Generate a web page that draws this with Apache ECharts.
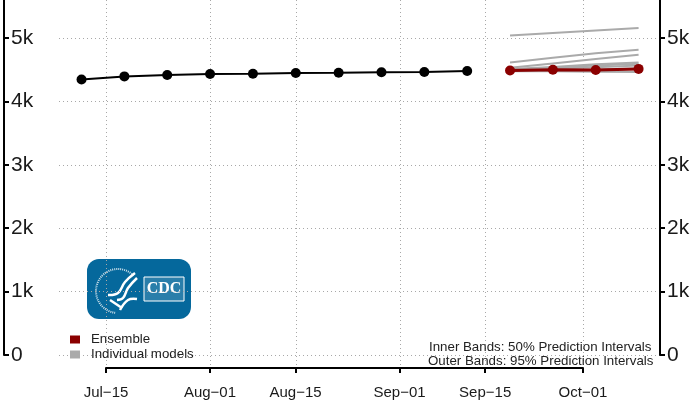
<!DOCTYPE html>
<html><head><meta charset="utf-8">
<style>html,body{margin:0;padding:0;background:#fff}#c{width:695px;height:411px}</style>
<script src="https://cdn.jsdelivr.net/npm/echarts@6/dist/echarts.min.js"></script>
</head><body><div id="c"></div>
<script>
const observedDates = ['2020-07-11','2020-07-18','2020-07-25','2020-08-01','2020-08-08','2020-08-15','2020-08-22','2020-08-29','2020-09-05','2020-09-12'];
const observedValues = [4345,4395,4418,4432,4437,4448,4452,4460,4465,4480];
const forecastDates = ['2020-09-19','2020-09-26','2020-10-03','2020-10-10'];
const ensembleValues = [4487,4500,4497,4513];
const modelValues = [
  [5040,5080,5120,5160],
  [4615,4690,4760,4815],
  [4530,4600,4670,4735],
  [4510,4545,4585,4615],
  [4500,4530,4565,4595],
  [4490,4515,4540,4565],
  [4480,4490,4505,4525],
  [4475,4475,4470,4465]
];
const tickDates = ['2020-07-15','2020-08-01','2020-08-15','2020-09-01','2020-09-15','2020-10-01'];
const tickLabels = ['Jul\u221215','Aug\u221201','Aug\u221215','Sep\u221201','Sep\u221215','Oct\u221201'];
const yTicks = [0,1000,2000,3000,4000,5000];
const ms = d => Date.parse(d + 'T00:00:00Z');
const DAY = 86400000;
const xMin = ms('2020-07-15') - 7.68*DAY, xMax = ms('2020-07-15') + 90.5*DAY;
const yMax = 5600;
const tickMs = tickDates.map(ms);
const font = '"Liberation Sans", Arial, sans-serif';
const dot = {type:[1,3], color:'#a8a8a8', width:1};
const yLabel = v => v === 0 ? '0' : (v/1000)+'k';
const pairs = (ds, vs) => ds.map((d,i) => [ms(d), vs[i]]);

const series = modelValues.map(vals => ({
  name:'Individual models', type:'line', data:pairs(forecastDates, vals), showSymbol:false,
  lineStyle:{color:'#aaaaaa', width:2}, itemStyle:{color:'#aaaaaa'}, animation:false, silent:true, z:3
}));
series.push({name:'Observed', type:'line', data:pairs(observedDates, observedValues), symbol:'circle', symbolSize:10,
  lineStyle:{color:'#000', width:2}, itemStyle:{color:'#000'}, animation:false, z:5});
series.push({name:'Ensemble', type:'line', data:pairs(forecastDates, ensembleValues), symbol:'circle', symbolSize:10,
  lineStyle:{color:'#8b0000', width:3}, itemStyle:{color:'#8b0000'}, animation:false, z:6});

const wing = pts => ({type:'polyline', shape:{points:pts, smooth:0.4}, style:{stroke:'#fff', lineWidth:2.5, fill:null}});

const option = {
  animation:false,
  backgroundColor:'#fff',
  textStyle:{fontFamily:font},
  grid:[
    {left:59, right:35, top:0, bottom:56},
    {left:59, right:35, top:0, bottom:44},
    {left:106, width:477, top:0, bottom:43}
  ],
  xAxis:[
    {gridIndex:0, type:'value', min:xMin, max:xMax, show:false},
    {gridIndex:1, type:'value', min:xMin, max:xMax, position:'bottom',
      axisLine:{show:false}, axisLabel:{show:false, customValues:tickMs},
      axisTick:{show:false, customValues:tickMs}, splitLine:{show:true, lineStyle:dot}},
    {gridIndex:2, type:'value', min:tickMs[0], max:tickMs[5], position:'bottom',
      axisLine:{show:true, lineStyle:{color:'#000', width:2}},
      axisTick:{show:true, length:5, lineStyle:{color:'#000', width:2}, customValues:tickMs},
      axisLabel:{show:true, customValues:tickMs, margin:17, fontSize:15, color:'#1a1a1a', fontFamily:font, hideOverlap:false,
        showMinLabel:true, showMaxLabel:true,
        formatter:v => tickLabels[tickMs.indexOf(v)]},
      splitLine:{show:false}}
  ],
  yAxis:[
    {gridIndex:0, type:'value', min:0, max:yMax, position:'left', offset:55,
      axisLine:{show:true, onZero:false, lineStyle:{color:'#000', width:2}},
      axisTick:{show:true, inside:true, length:5, lineStyle:{color:'#000', width:2}, customValues:yTicks},
      axisLabel:{inside:true, margin:7, fontSize:21, color:'#1a1a1a', fontFamily:font, customValues:yTicks, formatter:yLabel},
      splitLine:{show:true, lineStyle:dot}},
    {gridIndex:0, type:'value', min:0, max:yMax, position:'right',
      axisLine:{show:true, onZero:false, lineStyle:{color:'#000', width:2}},
      axisTick:{show:true, inside:false, length:5, lineStyle:{color:'#000', width:2}, customValues:yTicks},
      axisLabel:{margin:7, fontSize:21, color:'#1a1a1a', fontFamily:font, customValues:yTicks, formatter:yLabel},
      splitLine:{show:false}},
    {gridIndex:1, type:'value', min:0, max:1, show:false},
    {gridIndex:2, type:'value', min:0, max:1, show:false}
  ],
  legend:{left:65, top:328, orient:'vertical', itemWidth:10, itemHeight:8, itemGap:2, selectedMode:false,
    textStyle:{fontSize:13.3, color:'#222', fontFamily:font, padding:[0,0,0,6]},
    data:[{name:'Ensemble', icon:'rect'},{name:'Individual models', icon:'rect'}]},
  series:series,
  graphic:[
    {type:'group', z:20, children:[
      {type:'rect', shape:{x:87,y:259,width:104,height:60,r:12}, style:{fill:'#05689c'}},
      {type:'arc', shape:{cx:118,cy:291,r:22,startAngle:1.7,endAngle:5.5}, style:{stroke:'#cfe2ec',lineWidth:2,lineDash:[1,1],fill:null}},
      wing([[135,273],[125,282],[118,293],[108,295]]),
      wing([[137,278],[128,288],[123,298],[117,300]]),
      wing([[120,310],[128,300],[137,299]]),
      wing([[110,300],[122,308]]),
      {type:'rect', shape:{x:144,y:277,width:40,height:24}, style:{fill:'rgba(255,255,255,0.15)',stroke:'#fff',lineWidth:1}},
      {type:'text', x:164, y:289, style:{text:'CDC', fill:'#fff', font:'bold 16px "Liberation Serif", serif', align:'center', verticalAlign:'middle'}}
    ]},
    {type:'text', x:429, y:347, z:20, style:{text:'Inner Bands: 50% Prediction Intervals', fill:'#222', font:'13.3px "Liberation Sans", Arial, sans-serif', align:'left', verticalAlign:'middle'}},
    {type:'text', x:428, y:361, z:20, style:{text:'Outer Bands: 95% Prediction Intervals', fill:'#222', font:'13.3px "Liberation Sans", Arial, sans-serif', align:'left', verticalAlign:'middle'}}
  ]
};
const chart = echarts.init(document.getElementById('c'), null, {renderer:'canvas'});
chart.setOption(option);
</script></body></html>
